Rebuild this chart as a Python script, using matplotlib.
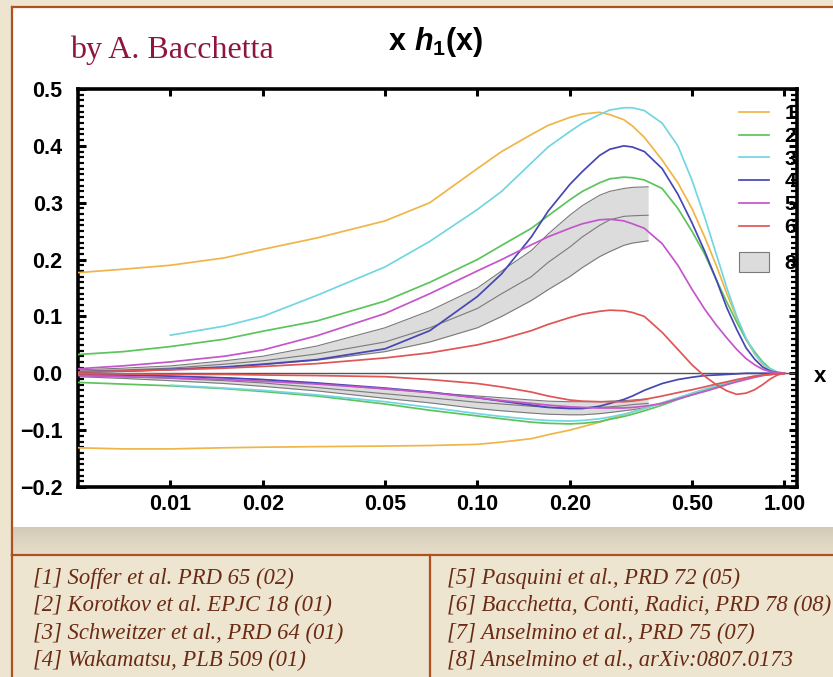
import numpy as np
import matplotlib
matplotlib.use("Agg")
import matplotlib.pyplot as plt
from matplotlib.patches import Rectangle, Patch
from matplotlib.lines import Line2D
from matplotlib.ticker import MultipleLocator, NullLocator, FixedLocator

# ---------------------------------------------------------------- data
x_grid = [0.005, 0.007, 0.01, 0.015, 0.02, 0.03, 0.05, 0.07, 0.1, 0.12, 0.15, 0.17,
          0.2, 0.22, 0.25, 0.27, 0.3, 0.32, 0.35, 0.4, 0.45, 0.5, 0.55, 0.6, 0.65,
          0.7, 0.75, 0.8, 0.85, 0.9, 0.95, 1.0]
x_from_001 = x_grid[2:]

# [1] Soffer et al.
soffer_u = [0.177, 0.183, 0.19, 0.203, 0.218, 0.238, 0.268, 0.30, 0.36, 0.39, 0.42, 0.436,
            0.45, 0.456, 0.459, 0.455, 0.446, 0.435, 0.415, 0.375, 0.335, 0.29, 0.24, 0.19, 0.14,
            0.097, 0.06, 0.034, 0.016, 0.006, 0.001, 0.0]
soffer_d = [-0.131, -0.133, -0.133, -0.131, -0.130, -0.129, -0.128, -0.127, -0.125, -0.121, -0.115, -0.108,
            -0.100, -0.094, -0.086, -0.080, -0.073, -0.068, -0.062, -0.052, -0.044, -0.036, -0.030, -0.024, -0.019,
            -0.014, -0.010, -0.007, -0.004, -0.002, -0.001, 0.0]
# [2] Korotkov et al.
korotkov_u = [0.033, 0.038, 0.047, 0.06, 0.074, 0.092, 0.127, 0.16, 0.20, 0.225, 0.255, 0.277,
              0.305, 0.32, 0.335, 0.342, 0.345, 0.344, 0.34, 0.325, 0.29, 0.25, 0.21, 0.165, 0.125,
              0.09, 0.06, 0.038, 0.02, 0.008, 0.002, 0.0]
korotkov_d = [-0.016, -0.019, -0.022, -0.027, -0.032, -0.040, -0.054, -0.065, -0.075, -0.080, -0.086, -0.088,
              -0.089, -0.088, -0.085, -0.081, -0.076, -0.072, -0.066, -0.056, -0.046, -0.038, -0.030, -0.024, -0.018,
              -0.013, -0.009, -0.006, -0.003, -0.002, -0.001, 0.0]
# [3] Schweitzer et al. (from x = 0.01)
schweitzer_u = [0.067, 0.083, 0.100, 0.137, 0.187, 0.232, 0.288, 0.32, 0.37, 0.398,
                0.425, 0.44, 0.455, 0.463, 0.467, 0.467, 0.462, 0.44, 0.40, 0.34, 0.275, 0.21, 0.15,
                0.10, 0.062, 0.035, 0.017, 0.007, 0.002, 0.0]
schweitzer_d = [-0.021, -0.026, -0.030, -0.038, -0.050, -0.060, -0.071, -0.076, -0.081, -0.083,
                -0.084, -0.083, -0.080, -0.077, -0.072, -0.068, -0.062, -0.052, -0.043, -0.035, -0.028, -0.022, -0.016,
                -0.012, -0.008, -0.005, -0.003, -0.001, 0.0, 0.0]
# [4] Wakamatsu
wakamatsu_u = [0.002, 0.004, 0.007, 0.011, 0.016, 0.024, 0.043, 0.075, 0.135, 0.175, 0.24, 0.285,
               0.332, 0.355, 0.383, 0.394, 0.40, 0.398, 0.39, 0.36, 0.315, 0.265, 0.215, 0.165, 0.115,
               0.077, 0.045, 0.025, 0.011, 0.004, 0.001, 0.0]
wakamatsu_d = [-0.002, -0.003, -0.005, -0.008, -0.011, -0.017, -0.026, -0.033, -0.043, -0.049, -0.056, -0.060,
               -0.062, -0.062, -0.058, -0.053, -0.046, -0.040, -0.030, -0.018, -0.011, -0.007, -0.004, -0.003, -0.002,
               -0.001, 0.0, 0.0, 0.0, 0.0, 0.0, 0.0]
# [5] Pasquini et al.
pasquini_u = [0.008, 0.013, 0.02, 0.03, 0.041, 0.066, 0.105, 0.14, 0.18, 0.20, 0.226, 0.24,
              0.255, 0.263, 0.27, 0.271, 0.268, 0.263, 0.255, 0.228, 0.19, 0.148, 0.113, 0.085, 0.062,
              0.042, 0.026, 0.015, 0.007, 0.003, 0.001, 0.0]
pasquini_d = [-0.004, -0.006, -0.008, -0.011, -0.014, -0.019, -0.027, -0.034, -0.043, -0.048, -0.053, -0.056,
              -0.059, -0.060, -0.061, -0.061, -0.061, -0.060, -0.058, -0.053, -0.045, -0.038, -0.032, -0.026, -0.020,
              -0.015, -0.011, -0.007, -0.004, -0.002, -0.001, 0.0]
# [6] Bacchetta, Conti, Radici
bcr_u = [0.002, 0.004, 0.006, 0.009, 0.012, 0.017, 0.027, 0.036, 0.05, 0.06, 0.075, 0.086,
         0.098, 0.104, 0.109, 0.111, 0.11, 0.107, 0.10, 0.072, 0.042, 0.015, -0.005, -0.02, -0.031,
         -0.037, -0.035, -0.029, -0.02, -0.01, -0.003, 0.0]
bcr_d = [-0.001, -0.001, -0.002, -0.002, -0.003, -0.004, -0.006, -0.011, -0.018, -0.024, -0.033, -0.040,
         -0.047, -0.049, -0.050, -0.050, -0.050, -0.049, -0.046, -0.040, -0.034, -0.029, -0.024, -0.019, -0.015,
         -0.011, -0.008, -0.005, -0.003, -0.002, -0.001, 0.0]

# [8] Anselmino et al. fit: central value and error band
band_x = [0.005, 0.007, 0.01, 0.015, 0.02, 0.03, 0.05, 0.07, 0.1, 0.12, 0.15, 0.17,
          0.2, 0.22, 0.25, 0.27, 0.3, 0.32, 0.36]
band_u_hi = [0.006, 0.009, 0.013, 0.022, 0.030, 0.048, 0.08, 0.11, 0.15, 0.18, 0.216, 0.245,
             0.278, 0.295, 0.313, 0.32, 0.325, 0.327, 0.328]
band_u_mid = [0.004, 0.006, 0.009, 0.016, 0.022, 0.034, 0.055, 0.08, 0.114, 0.14, 0.17, 0.195,
              0.222, 0.24, 0.26, 0.27, 0.276, 0.277, 0.278]
band_u_lo = [0.002, 0.003, 0.006, 0.011, 0.015, 0.023, 0.038, 0.055, 0.08, 0.10, 0.128, 0.147,
             0.17, 0.186, 0.205, 0.214, 0.225, 0.229, 0.233]
band_d_hi = [-0.002, -0.003, -0.005, -0.008, -0.011, -0.018, -0.028, -0.034, -0.040, -0.043, -0.047, -0.049,
             -0.050, -0.050, -0.050, -0.049, -0.048, -0.047, -0.045]
band_d_mid = [-0.004, -0.006, -0.009, -0.013, -0.017, -0.025, -0.036, -0.043, -0.051, -0.054, -0.058, -0.060,
              -0.061, -0.061, -0.060, -0.059, -0.057, -0.055, -0.053]
band_d_lo = [-0.006, -0.009, -0.013, -0.018, -0.023, -0.031, -0.044, -0.052, -0.062, -0.066, -0.070, -0.072,
             -0.073, -0.073, -0.071, -0.069, -0.066, -0.064, -0.060]

x_ticks = [0.01, 0.02, 0.05, 0.10, 0.20, 0.50, 1.00]
x_tick_labels = ["0.01", "0.02", "0.05", "0.10", "0.20", "0.50", "1.00"]
y_ticks = [-0.2, -0.1, 0.0, 0.1, 0.2, 0.3, 0.4, 0.5]
y_tick_labels = ["\u22120.2", "\u22120.1", "0.0", "0.1", "0.2", "0.3", "0.4", "0.5"]

references_left = ["[1] Soffer et al. PRD 65 (02)",
                   "[2] Korotkov et al. EPJC 18 (01)",
                   "[3] Schweitzer et al., PRD 64 (01)",
                   "[4] Wakamatsu, PLB 509 (01)"]
references_right = ["[5] Pasquini et al., PRD 72 (05)",
                    "[6] Bacchetta, Conti, Radici, PRD 78 (08)",
                    "[7] Anselmino et al., PRD 75 (07)",
                    "[8] Anselmino et al., arXiv:0807.0173"]

# ---------------------------------------------------------------- style
C1 = "#f0b548"
C2 = "#5cc45c"
C3 = "#72d6e2"
C4 = "#4646b4"
C5 = "#c455cc"
C6 = "#e05555"
BAND_FILL = "#dcdcdc"
BAND_EDGE = "#7a7a7a"
BROWN = "#b0501e"
BEIGE = "#ede5d0"
INK = "#6a2a14"

plt.rcParams["font.family"] = ["Liberation Sans", "DejaVu Sans"]
plt.rcParams["mathtext.fontset"] = "custom"
plt.rcParams["mathtext.rm"] = "Liberation Sans:bold"
plt.rcParams["mathtext.it"] = "Liberation Sans:italic:bold"
plt.rcParams["mathtext.bf"] = "Liberation Sans:bold"

W, H, DPI = 833, 677, 100
fig = plt.figure(figsize=(W / DPI, H / DPI), dpi=DPI)
fig.patch.set_facecolor(BEIGE)


def fx(px):
    return px / W


def fy(py):
    return 1 - py / H


# slide panels
fig.patches.append(Rectangle((fx(12), fy(527)), 1 - fx(12), fy(7) - fy(527),
                             transform=fig.transFigure, facecolor="white",
                             edgecolor="none", zorder=0))
shadow_ax = fig.add_axes([fx(12), fy(555), 1 - fx(12), fy(525) - fy(555)], zorder=0)
grad = np.linspace(0, 1, 60)[:, None]
shadow_ax.imshow(grad, aspect="auto", cmap=matplotlib.colors.LinearSegmentedColormap.from_list(
    "shade", ["#cfc8b6", "#dcd4bf", "#e6dec8"]), extent=[0, 1, 0, 1])
shadow_ax.set_axis_off()

for seg in [((12, 7), (833, 7)), ((12, 7), (12, 555)), ((12, 555), (833, 555)),
            ((12, 555), (12, 677)), ((430, 555), (430, 677))]:
    (x0, y0), (x1, y1) = seg
    fig.add_artist(Line2D([fx(x0), fx(x1)], [fy(y0), fy(y1)], transform=fig.transFigure,
                          color=BROWN, lw=1.6, zorder=5))

# ---------------------------------------------------------------- plot
ax = fig.add_axes([fx(78), fy(487), fx(797) - fx(78), fy(89) - fy(487)], zorder=2)
ax.set_xscale("log")
ax.set_xlim(0.005, 1.1)
ax.set_ylim(-0.2, 0.5)

ax.fill_between(band_x, band_u_lo, band_u_hi, color=BAND_FILL, lw=0, zorder=1)
ax.fill_between(band_x, band_d_lo, band_d_hi, color=BAND_FILL, lw=0, zorder=1)
for arr in (band_u_hi, band_u_mid, band_u_lo, band_d_hi, band_d_mid, band_d_lo):
    ax.plot(band_x, arr, color=BAND_EDGE, lw=0.8, zorder=2)

ax.axhline(0, color="#555555", lw=1.0, zorder=2)

lw = 1.25
series = [
    (x_grid, soffer_u, soffer_d, C1, "1"),
    (x_grid, korotkov_u, korotkov_d, C2, "2"),
    (x_from_001, schweitzer_u, schweitzer_d, C3, "3"),
    (x_grid, wakamatsu_u, wakamatsu_d, C4, "4"),
    (x_grid, pasquini_u, pasquini_d, C5, "5"),
    (x_grid, bcr_u, bcr_d, C6, "6"),
]
handles = []
for xs, up, dn, col, lab in series:
    h, = ax.plot(xs, up, color=col, lw=lw, zorder=3, label=lab, solid_joinstyle="round")
    ax.plot(xs, dn, color=col, lw=lw, zorder=3, solid_joinstyle="round")
    handles.append(h)

leg1 = ax.legend(handles=handles, loc="upper right", bbox_to_anchor=(0.999, 0.962),
                 frameon=False, fontsize=15, handlelength=1.45, handletextpad=0.75,
                 labelspacing=0.18, borderaxespad=0, borderpad=0)
for t in leg1.get_texts():
    t.set_fontweight("bold")
ax.add_artist(leg1)
band_handle = Patch(facecolor=BAND_FILL, edgecolor=BAND_EDGE, lw=0.8, label="8")
leg2 = ax.legend(handles=[band_handle], loc="upper right", bbox_to_anchor=(0.999, 0.59),
                 frameon=False, fontsize=15, handlelength=1.45, handleheight=1.1,
                 handletextpad=0.75, borderaxespad=0, borderpad=0)
for t in leg2.get_texts():
    t.set_fontweight("bold")

# axes frame and ticks
for sp in ax.spines.values():
    sp.set_linewidth(2.6)
ax.xaxis.set_major_locator(FixedLocator(x_ticks))
ax.set_xticklabels(x_tick_labels)
ax.xaxis.set_minor_locator(NullLocator())
ax.yaxis.set_major_locator(FixedLocator(y_ticks))
ax.set_yticklabels(y_tick_labels)
ax.yaxis.set_minor_locator(MultipleLocator(0.01))
ax.tick_params(axis="x", which="major", direction="in", length=5, width=2.2,
               top=True, bottom=True, labelsize=15.5, pad=5)
ax.tick_params(axis="y", which="major", direction="in", length=6, width=2.2,
               left=True, right=True, labelsize=15.5, pad=11)
ax.tick_params(axis="y", which="minor", direction="in", length=4, width=1.6,
               left=True, right=True)
for lab in ax.get_xticklabels() + ax.get_yticklabels():
    lab.set_fontweight("bold")

fig.text(fx(820), fy(376), "x", fontsize=16, fontweight="bold", ha="center", va="center")

# titles
fig.text(fx(436), fy(42), r"$\mathrm{x}\ h_{\mathrm{1}}\mathrm{(x)}$", fontsize=22,
         ha="center", va="center")
fig.text(fx(70), fy(50), "by A. Bacchetta", fontsize=23, color="#8e1540",
         family=["Liberation Serif"], ha="left", va="center")

# references
ref_rows = [578, 605, 633, 660]
for txt, py in zip(references_left, ref_rows):
    fig.text(fx(33), fy(py), txt, fontsize=16.3, style="italic", color=INK,
             family=["Liberation Serif"], ha="left", va="center")
for txt, py in zip(references_right, ref_rows):
    fig.text(fx(447), fy(py), txt, fontsize=16.3, style="italic", color=INK,
             family=["Liberation Serif"], ha="left", va="center")

fig.savefig("out.png", dpi=DPI, facecolor=fig.get_facecolor())
